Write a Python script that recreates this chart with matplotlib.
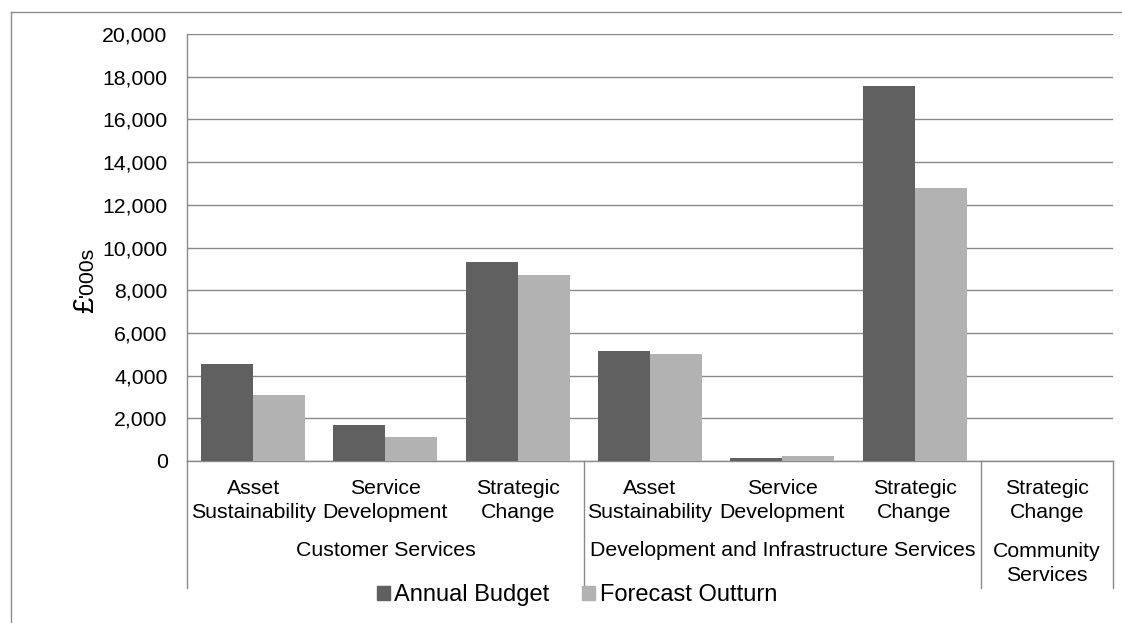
import numpy as np
import matplotlib.pyplot as plt
from matplotlib.lines import Line2D
from matplotlib.patches import Patch
import matplotlib.transforms as mtransforms

plt.rcParams['font.family'] = ['Liberation Sans', 'DejaVu Sans']

# data
groups = ["Customer Services", "Development and Infrastructure Services", "Community\nServices"]
group_sizes = [3, 3, 1]
subcats = ["Asset\nSustainability", "Service\nDevelopment", "Strategic\nChange",
           "Asset\nSustainability", "Service\nDevelopment", "Strategic\nChange",
           "Strategic\nChange"]
annual_budget = [4530, 1700, 9330, 5170, 155, 17570, 0]
forecast_outturn = [3080, 1125, 8720, 5030, 250, 12800, 0]

W, H = 1122, 623
fig = plt.figure(figsize=(W / 100, H / 100), dpi=100)
ax = fig.add_axes([187 / W, 1 - 461 / H, (1113 - 187) / W, (461 - 34) / H])

dark = '#606060'
light = '#b2b2b2'
grid = '#8a8a8a'
fs = 15.3

n = len(subcats)
x = np.arange(n) + 0.5
bw = 0.393
ax.bar(x - bw / 2, annual_budget, bw, color=dark, zorder=3)
ax.bar(x + bw / 2, forecast_outturn, bw, color=light, zorder=3)

ax.set_xlim(0, n)
ax.set_ylim(0, 20000)
ax.set_yticks(np.arange(0, 20001, 2000))
ax.set_yticklabels([f"{v:,}" for v in range(0, 20001, 2000)], fontsize=fs)
ax.tick_params(axis='y', length=0, pad=14)
ax.set_xticks([])
ax.yaxis.grid(True, color=grid, lw=1.0, zorder=0)
for s in ['top', 'right']:
    ax.spines[s].set_visible(False)
ax.spines['left'].set_color(grid)
ax.spines['left'].set_linewidth(1.0)
ax.spines['bottom'].set_color(grid)
ax.spines['bottom'].set_linewidth(1.0)

# multi-level category axis (va='baseline' anchors the last line)
tr = mtransforms.blended_transform_factory(ax.transData, fig.transFigure)
for xi, lab in zip(x, subcats):
    fig.text(xi, 1 - 518 / H, lab, transform=tr, ha='center', va='baseline',
             fontsize=fs, linespacing=1.36)
bounds = np.concatenate([[0], np.cumsum(group_sizes)])
for b in bounds:
    ax.add_line(Line2D([b, b], [1 - 461 / H, 1 - 588 / H], transform=tr,
                       color=grid, lw=1.0, clip_on=False))
for i, g in enumerate(groups):
    cx = (bounds[i] + bounds[i + 1]) / 2
    yb = 581 if '\n' in g else 556
    fig.text(cx, 1 - yb / H, g, transform=tr, ha='center', va='baseline',
             fontsize=fs, linespacing=1.36)

# y axis title with larger pound sign
fig.text(93 / W, 1 - 313 / H, "£", rotation=90, rotation_mode='anchor',
         ha='left', va='baseline', fontsize=21)
fig.text(93 / W, 1 - 297 / H, "'000s", rotation=90, rotation_mode='anchor',
         ha='left', va='baseline', fontsize=fs)

# outer chart border (top and left)
fig.add_artist(Line2D([11 / W, 1], [1 - 12 / H, 1 - 12 / H], color=grid, lw=1.0))
fig.add_artist(Line2D([11 / W, 11 / W], [0, 1 - 12 / H], color=grid, lw=1.0))

handles = [Patch(color=dark, label='Annual Budget'), Patch(color=light, label='Forecast Outturn')]
fig.legend(handles=handles, loc='center', bbox_to_anchor=(577 / W, 1 - 595 / H), ncol=2,
           frameon=False, fontsize=17, handlelength=0.55, handleheight=0.55,
           handletextpad=0.18, columnspacing=1.4, borderpad=0, borderaxespad=0)

fig.savefig('out.png', dpi=100)
